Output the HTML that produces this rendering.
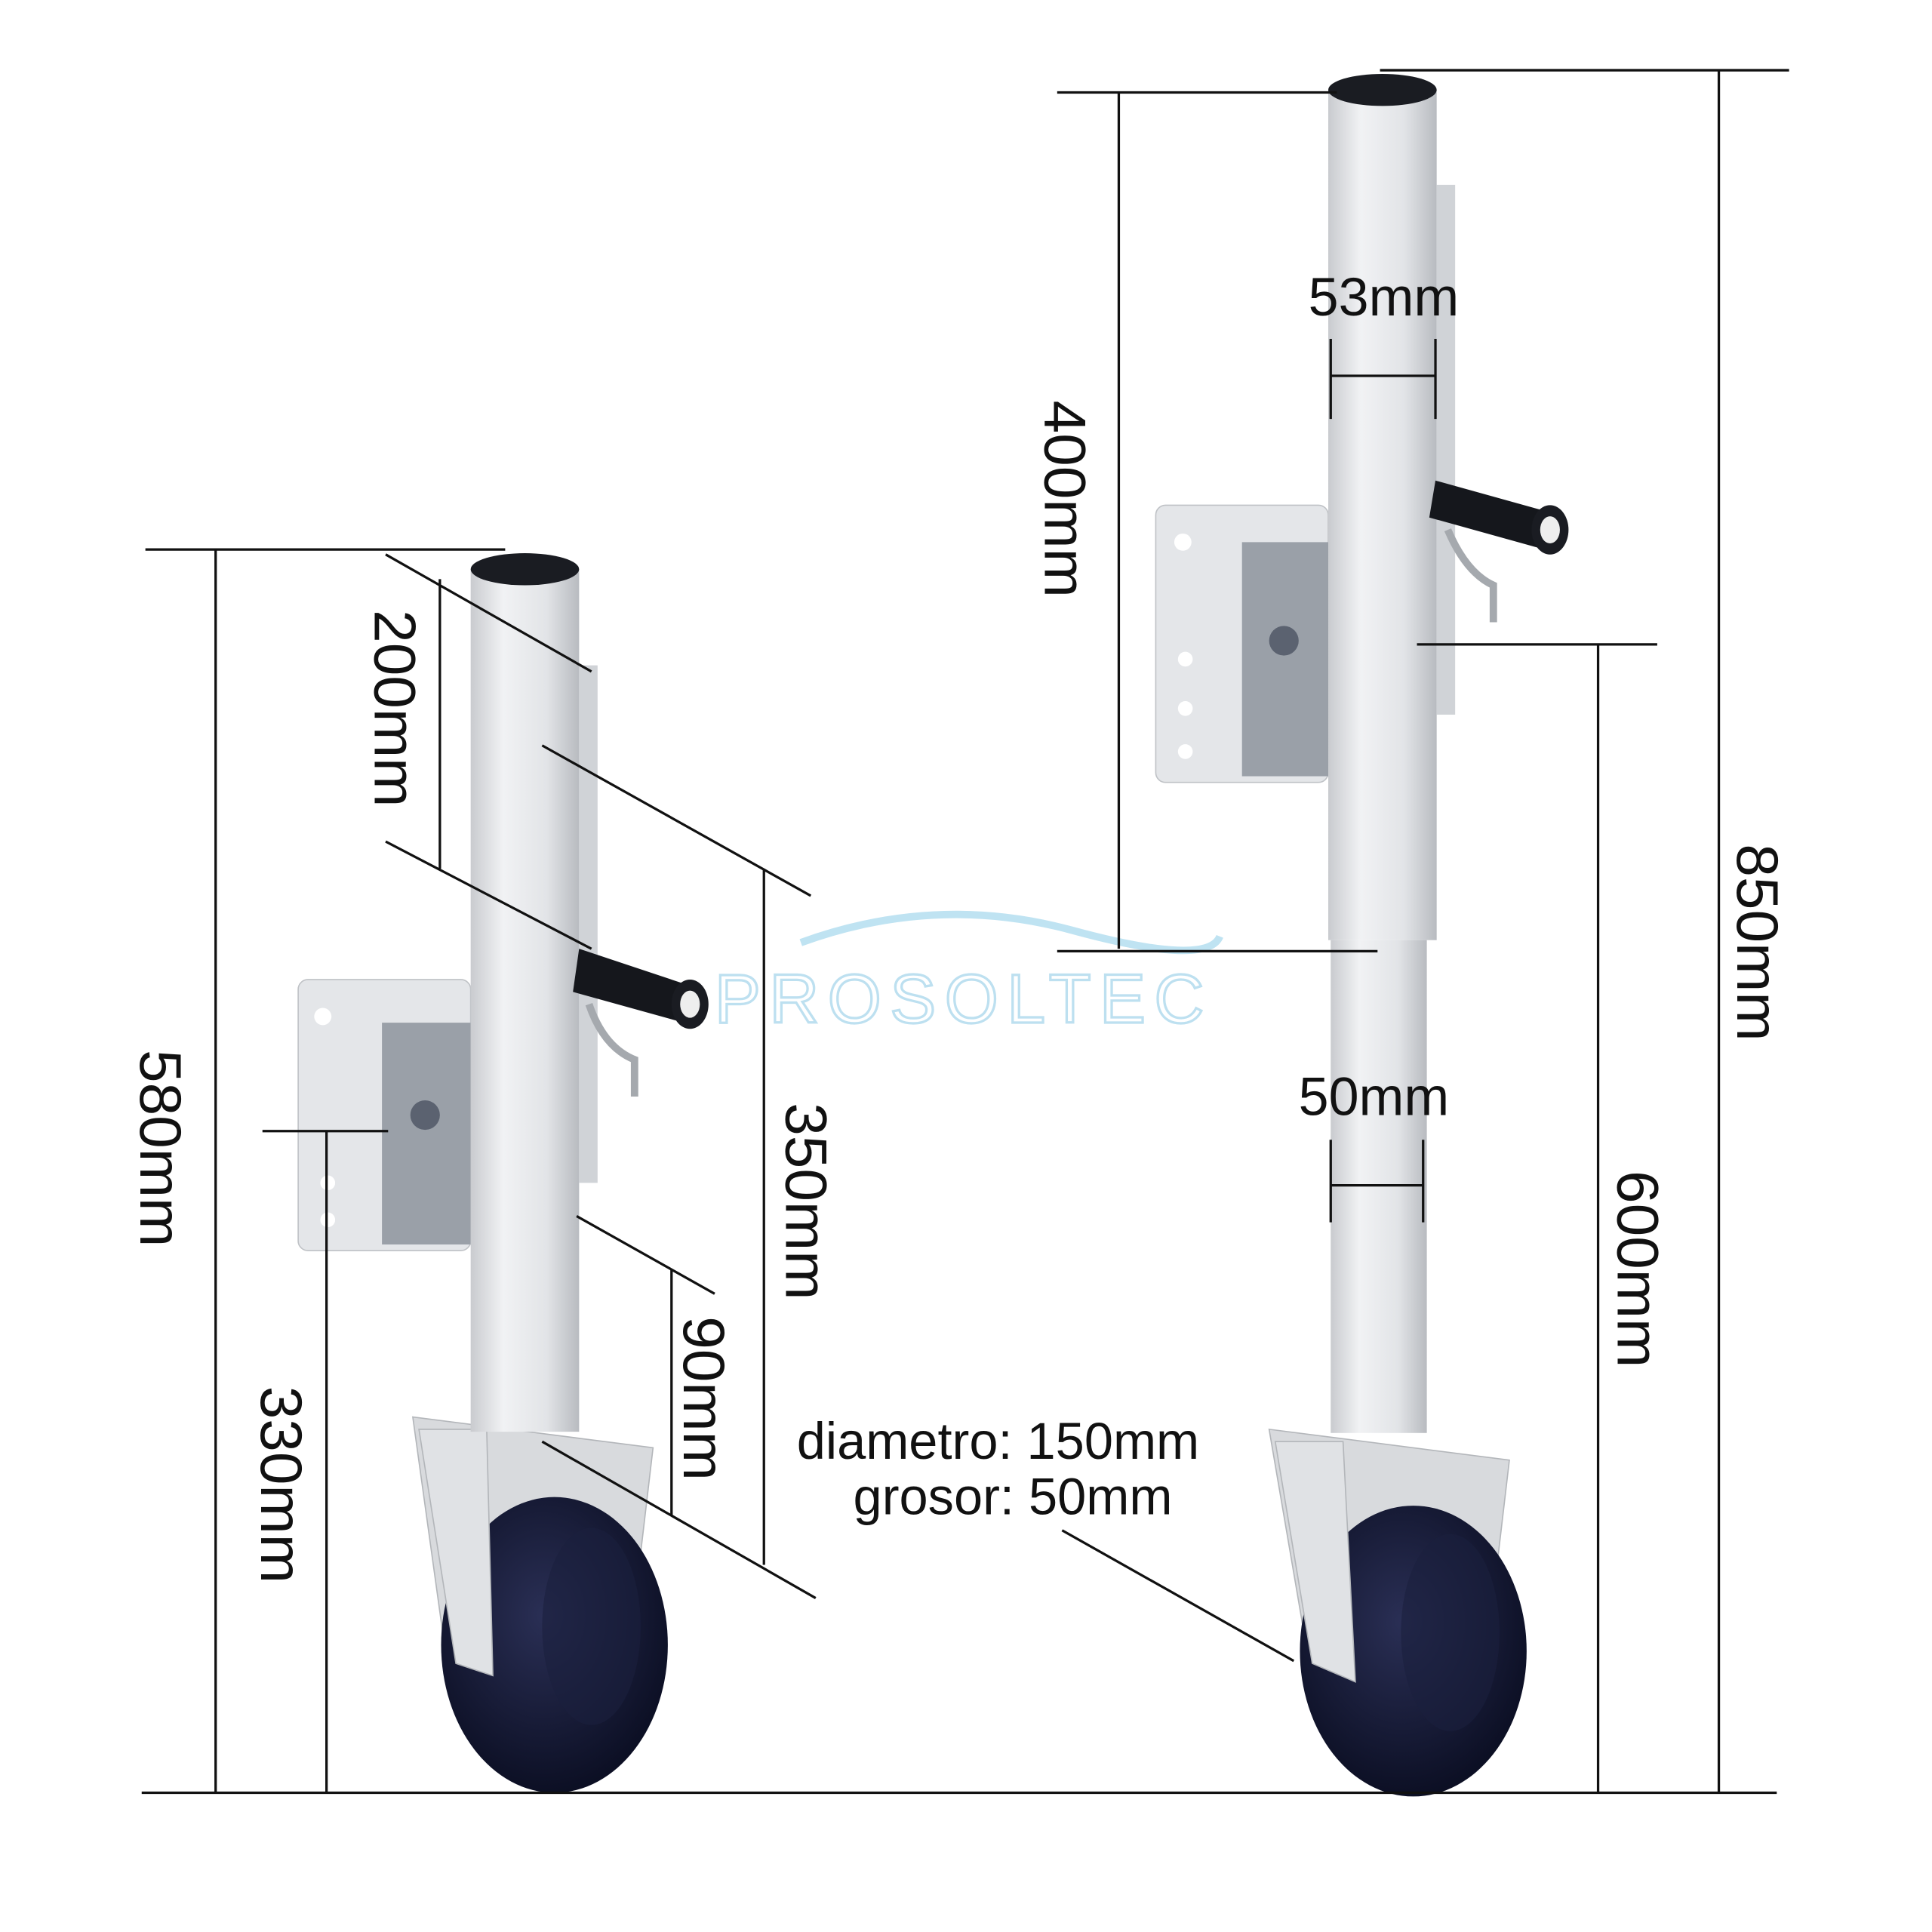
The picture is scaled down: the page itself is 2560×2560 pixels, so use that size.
<!DOCTYPE html>
<html><head><meta charset="utf-8"><style>html,body{margin:0;padding:0;background:#fff}svg{display:block}</style></head>
<body>
<svg width="2560" height="2560" viewBox="0 0 1568 1568" xmlns="http://www.w3.org/2000/svg" font-family="Liberation Sans, sans-serif">
<defs>
<linearGradient id="tube" x1="0" x2="1"><stop offset="0" stop-color="#c9cbcf"/><stop offset="0.3" stop-color="#f1f2f4"/><stop offset="0.7" stop-color="#e2e4e7"/><stop offset="1" stop-color="#b8bbc0"/></linearGradient>
<radialGradient id="wh" cx="0.45" cy="0.4" r="0.7"><stop offset="0" stop-color="#2a2f55"/><stop offset="1" stop-color="#070a1c"/></radialGradient>
</defs>
<rect width="1568" height="1568" fill="#fff"/>
<path d="M650 765 Q760 725 870 755 T990 760" stroke="#bfe3f2" stroke-width="6" fill="none"/>
<text x="580" y="830" font-size="56" fill="none" stroke="#bde0f0" stroke-width="2" letter-spacing="7">PROSOLTEC</text>

<!-- LEFT JACK -->
<rect x="242" y="795" width="140" height="220" rx="8" fill="#e4e6e9" stroke="#bfc2c6"/>
<rect x="310" y="830" width="72" height="180" fill="#9aa0a8"/>
<circle cx="262" cy="825" r="7" fill="#fff"/><circle cx="266" cy="960" r="6" fill="#fff"/><circle cx="266" cy="990" r="6" fill="#fff"/>
<circle cx="345" cy="905" r="12" fill="#5b6270"/>
<path d="M335 1150 L530 1175 L520 1260 L470 1230 L410 1370 L360 1330 Z" fill="#d8dadd" stroke="#b3b6ba"/>
<ellipse cx="450" cy="1335" rx="92" ry="120" fill="url(#wh)"/>
<ellipse cx="480" cy="1320" rx="40" ry="80" fill="#1a1f3d" opacity="0.6"/>
<path d="M340 1160 L395 1160 L400 1360 L370 1350 Z" fill="#e0e2e5" stroke="#b3b6ba"/>
<rect x="382" y="462" width="88" height="700" fill="url(#tube)"/>
<rect x="470" y="540" width="15" height="420" fill="#d0d3d7"/>
<ellipse cx="426" cy="462" rx="44" ry="13" fill="#1a1c22"/>
<path d="M470 770 L560 800 L555 830 L465 805 Z" fill="#15171c"/>
<ellipse cx="560" cy="815" rx="15" ry="20" fill="#1a1c22"/><ellipse cx="560" cy="815" rx="8" ry="11" fill="#eee"/>
<path d="M478 815 Q490 850 515 860 L515 890" stroke="#a5a9ae" stroke-width="6" fill="none"/>

<!-- RIGHT JACK -->
<rect x="938" y="410" width="140" height="225" rx="8" fill="#e4e6e9" stroke="#bfc2c6"/>
<rect x="1008" y="440" width="70" height="190" fill="#9aa0a8"/>
<circle cx="960" cy="440" r="7" fill="#fff"/><circle cx="962" cy="535" r="6" fill="#fff"/><circle cx="962" cy="575" r="6" fill="#fff"/><circle cx="962" cy="610" r="6" fill="#fff"/>
<circle cx="1042" cy="520" r="12" fill="#5b6270"/>
<path d="M1030 1160 L1225 1185 L1215 1270 L1165 1240 L1110 1370 L1060 1335 Z" fill="#d8dadd" stroke="#b3b6ba"/>
<ellipse cx="1147" cy="1340" rx="92" ry="118" fill="url(#wh)"/>
<ellipse cx="1177" cy="1325" rx="40" ry="80" fill="#1a1f3d" opacity="0.6"/>
<path d="M1035 1170 L1090 1170 L1100 1365 L1065 1350 Z" fill="#e0e2e5" stroke="#b3b6ba"/>
<rect x="1078" y="73" width="88" height="690" fill="url(#tube)"/>
<rect x="1080" y="763" width="78" height="400" fill="url(#tube)"/>
<rect x="1166" y="150" width="15" height="430" fill="#d0d3d7"/>
<ellipse cx="1122" cy="73" rx="44" ry="13" fill="#1a1c22"/>
<path d="M1165 390 L1255 415 L1250 445 L1160 420 Z" fill="#15171c"/>
<ellipse cx="1258" cy="430" rx="15" ry="20" fill="#1a1c22"/><ellipse cx="1258" cy="430" rx="8" ry="11" fill="#eee"/>
<path d="M1175 430 Q1190 465 1212 475 L1212 505" stroke="#a5a9ae" stroke-width="6" fill="none"/>

<g stroke="#111" stroke-width="2" fill="none">
<line x1="115" y1="1455" x2="1442" y2="1455"/>
<line x1="118" y1="446" x2="410" y2="446"/>
<line x1="175" y1="446" x2="175" y2="1455"/>
<line x1="213" y1="918" x2="315" y2="918"/>
<line x1="265" y1="918" x2="265" y2="1455"/>
<line x1="357" y1="470" x2="357" y2="705"/>
<line x1="313" y1="450" x2="480" y2="545"/>
<line x1="313" y1="683" x2="480" y2="770"/>
<line x1="620" y1="705" x2="620" y2="1270"/>
<line x1="440" y1="605" x2="658" y2="727"/>
<line x1="440" y1="1170" x2="662" y2="1297"/>
<line x1="545" y1="1030" x2="545" y2="1230"/>
<line x1="468" y1="987" x2="580" y2="1050"/>
<line x1="1120" y1="57" x2="1452" y2="57"/>
<line x1="1395" y1="57" x2="1395" y2="1455"/>
<line x1="858" y1="75" x2="1085" y2="75"/>
<line x1="908" y1="75" x2="908" y2="770"/>
<line x1="858" y1="772" x2="1118" y2="772"/>
<line x1="1150" y1="523" x2="1345" y2="523"/>
<line x1="1297" y1="523" x2="1297" y2="1455"/>
<line x1="1080" y1="275" x2="1080" y2="340"/><line x1="1165" y1="275" x2="1165" y2="340"/><line x1="1080" y1="305" x2="1165" y2="305"/>
<line x1="1080" y1="925" x2="1080" y2="992"/><line x1="1155" y1="925" x2="1155" y2="992"/><line x1="1080" y1="962" x2="1155" y2="962"/>
<line x1="862" y1="1242" x2="1050" y2="1348"/>
</g>

<g fill="#111" font-size="48" text-anchor="middle">
<text transform="translate(114,932) rotate(90)">580mm</text>
<text transform="translate(212,1205) rotate(90)">330mm</text>
<text transform="translate(304,575) rotate(90)">200mm</text>
<text transform="translate(638,975) rotate(90)">350mm</text>
<text transform="translate(555,1135) rotate(90)">90mm</text>
<text transform="translate(1410,765) rotate(90)">850mm</text>
<text transform="translate(848,405) rotate(90)">400mm</text>
<text transform="translate(1313,1030) rotate(90)">600mm</text>
<text x="1123" y="256" font-size="44">53mm</text>
<text x="1115" y="905" font-size="44">50mm</text>
<text x="810" y="1184" font-size="42">diametro: 150mm</text>
<text x="822" y="1229" font-size="42">grosor: 50mm</text>
</g>
</svg>
</body></html>
